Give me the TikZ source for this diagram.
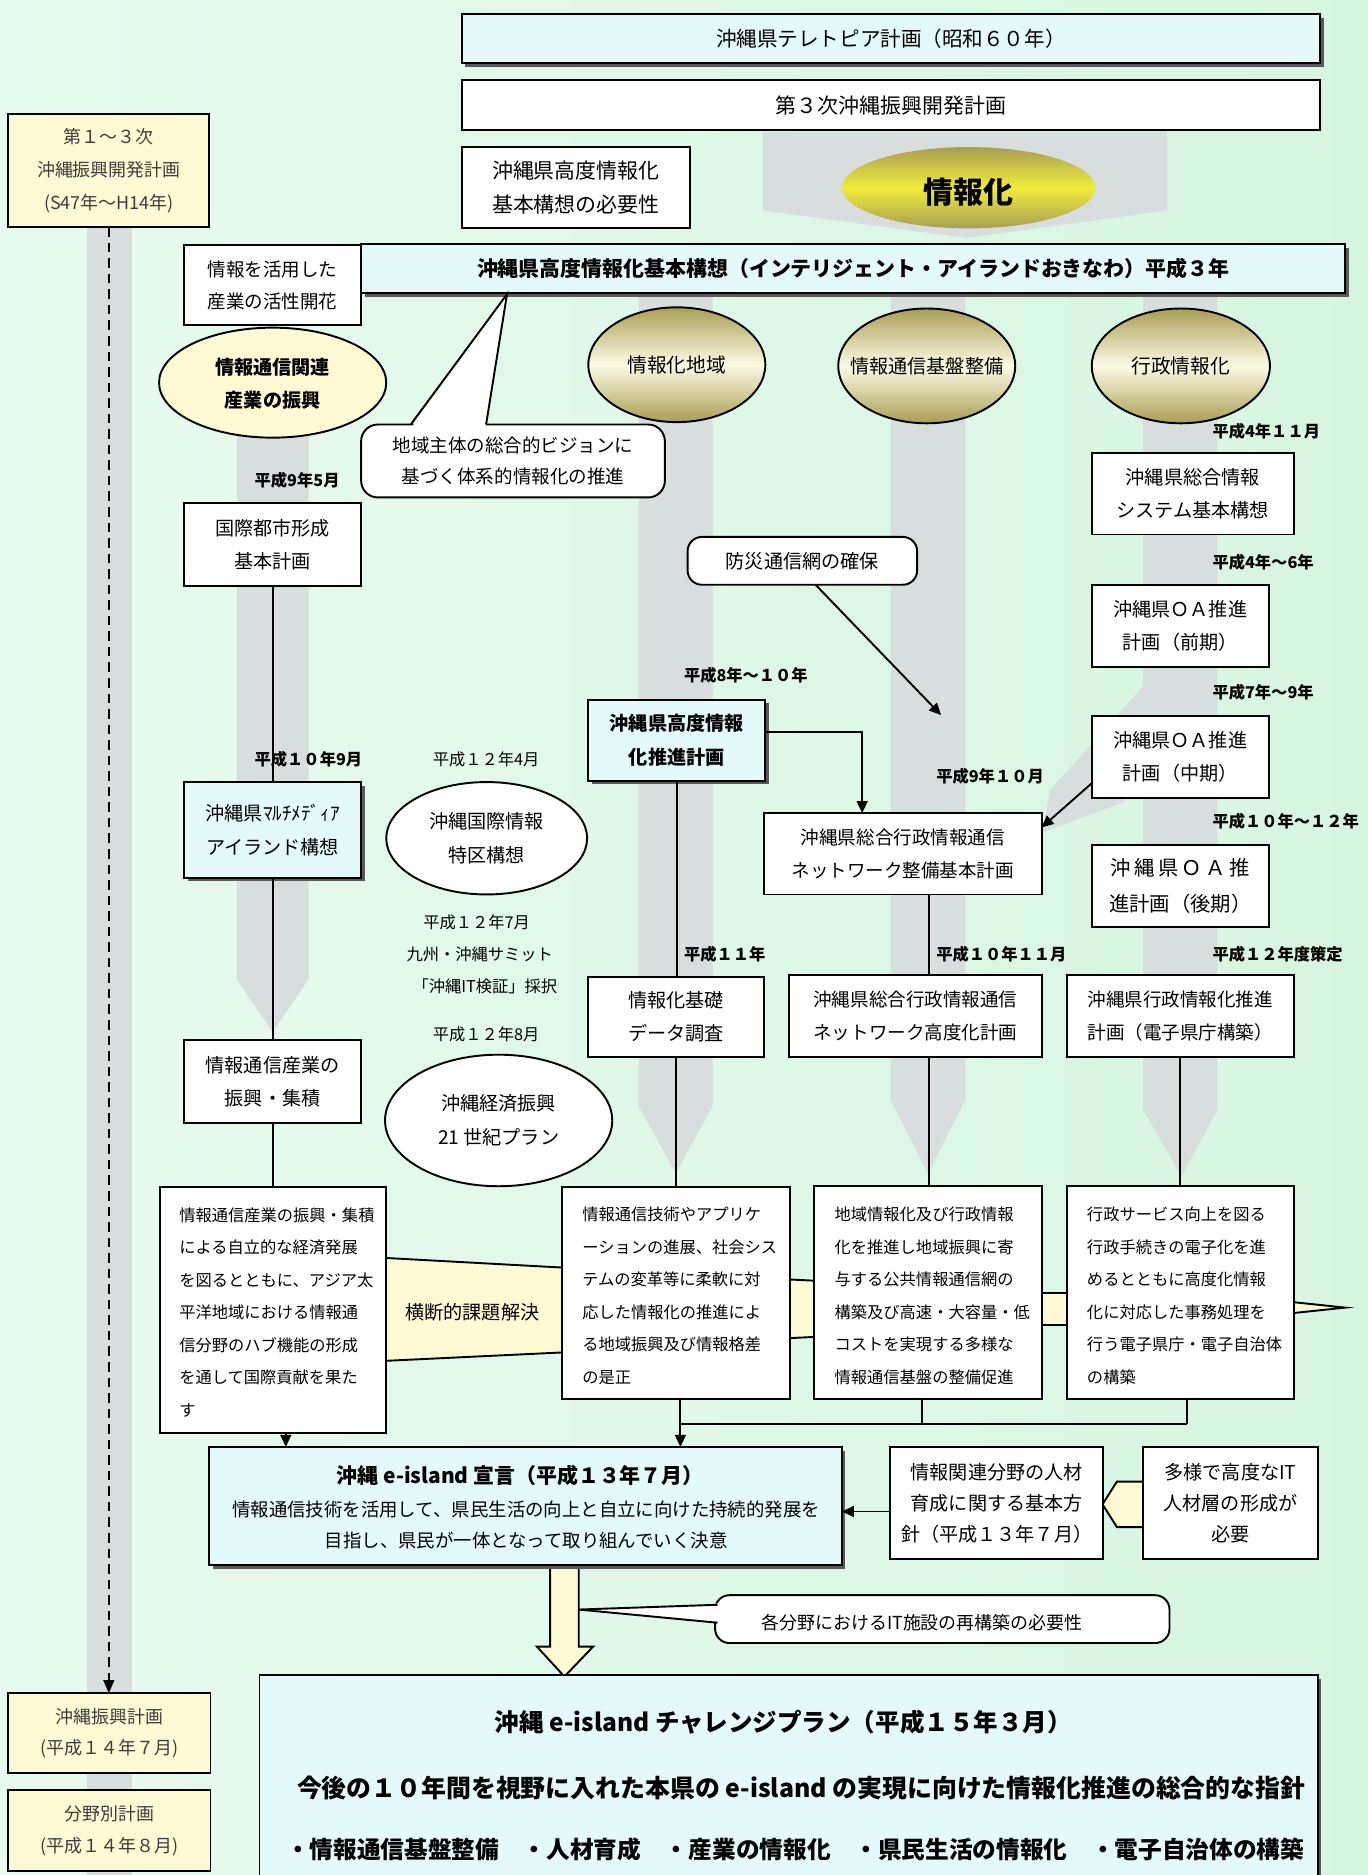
\documentclass[tikz,border=0pt]{standalone}
\usepackage{fontspec}
\setmainfont{Noto Sans CJK JP}
\usetikzlibrary{shapes.geometric,arrows.meta,shadows}
\definecolor{bgA}{RGB}{232,251,240}
\definecolor{bgB}{RGB}{214,245,224}
\definecolor{band}{RGB}{216,221,221}
\definecolor{cyanf}{RGB}{228,249,250}
\definecolor{yelf}{RGB}{255,250,212}
\definecolor{olv}{RGB}{168,158,84}
\definecolor{cream}{RGB}{252,250,228}
\definecolor{ylw}{RGB}{240,236,60}
\definecolor{txtg}{RGB}{60,60,60}
\newcommand\fsz[2]{\fontsize{#1}{#2}\selectfont}
\begin{document}
\begin{tikzpicture}[x=1pt,y=-1pt,
 every node/.style={inner sep=0pt, outer sep=0pt},
 bx/.style={draw=black, line width=1.6pt, fill=white, align=center, font=\fsz{16}{28}},
 cbx/.style={bx, fill=cyanf},
 ybx/.style={bx, fill=yelf, text=txtg},
 shd/.style={drop shadow={shadow xshift=3pt, shadow yshift=-3pt, fill=black!65, opacity=1}},
 ell/.style={ellipse, draw=black, line width=1.6pt},
 olive/.style={ell, top color=olv, bottom color=olv, middle color=cream},
 dateb/.style={anchor=west, font=\bfseries\fsz{13.6}{16}},
 daten/.style={anchor=west, font=\fsz{13.6}{16}},
 ln/.style={line width=1.6pt},
 arr/.style={line width=1.6pt, -{Triangle[length=10pt,width=9pt]}},
 txt/.style={align=left, anchor=west, font=\fsz{13.6}{27.2}}]
\useasboundingbox (0,0) rectangle (1144,1568);
\shade[left color=bgA, right color=bgB] (0,0) rectangle (1144,1568);
% gray bands
\fill[band] (73,190) rectangle (110,1568);
\fill[band] (638,110) -- (976,110) -- (976,176) -- (808,199) -- (638,176) -- cycle;
\fill[band] (198,340) -- (258,340) -- (258,819) -- (228,863) -- (198,819) -- cycle;
\fill[band] (534,245) -- (596,245) -- (596,925) -- (565,981) -- (534,925) -- cycle;
\fill[band] (745,245) -- (807,245) -- (807,920) -- (776,981) -- (745,920) -- cycle;
\fill[band] (956,245) -- (1018,245) -- (1018,928) -- (988,984) -- (956,928) -- cycle;
\fill[band] (956,574) -- (1017,584) -- (939,671) -- (872,696) -- (878,661) -- cycle;
% yellow bands
\fill[yelf] (323,1052) -- (470,1060) -- (470,1131) -- (323,1138) -- cycle;
\draw[ln] (323,1052) -- (470,1060); \draw[ln] (323,1138) -- (470,1131);
\fill[yelf] (661,1070) rectangle (681,1119);
\draw[ln] (661,1070) -- (681,1071); \draw[ln] (661,1119) -- (681,1118);
\fill[yelf] (871,1081) rectangle (892,1108);
\draw[ln] (871,1081) -- (892,1081); \draw[ln] (871,1108) -- (892,1108);
\draw[ln, fill=yelf] (1082,1089) -- (1125,1093.5) -- (1082,1098);
\draw[ln, fill=yelf] (956,1239) -- (934,1239) -- (922,1258) -- (934,1277) -- (956,1277);
\draw[ln, fill=yelf] (460,1309) -- (460,1377) -- (449,1377) -- (472,1402) -- (496,1377) -- (484,1377) -- (484,1309);
% top
\node[cbx, shd, minimum width=718pt, minimum height=41pt, font=\fsz{17.2}{20}] (telo) at (745,32.5) {沖縄県テレトピア計画（昭和６０年）};
\node[bx, minimum width=718pt, minimum height=42pt, font=\fsz{17.5}{20}] (dai3) at (745,88) {第３次沖縄振興開発計画};
\node[ellipse, minimum width=212pt, minimum height=68pt, top color=olv, bottom color=olv, middle color=ylw] (joho) at (810,157) {};
\node[font=\bfseries\fsz{25}{28}] (johot) at (810,161) {情報化};
\node[bx, minimum width=191pt, minimum height=68pt, font=\fsz{17.5}{28}] (hitsuyo) at (481.5,157) {沖縄県高度情報化\\基本構想の必要性};
\node[ybx, minimum width=168pt, minimum height=95pt, font=\fsz{15}{27.5}] (dai13) at (91,142.5) {第１～３次\\沖縄振興開発計画\\(S47年～H14年)};
\node[bx, minimum width=148pt, minimum height=67pt, font=\fsz{15.5}{27}] (katsuyo) at (228,238.5) {情報を活用した\\産業の活性開花};
\node[cbx, shd, minimum width=823pt, minimum height=41pt, font=\bfseries\fsz{17.5}{20}] (kousou) at (713.5,224.5) {沖縄県高度情報化基本構想（インテリジェント・アイランドおきなわ）平成３年};
% theme ellipses
\node[ell, fill=yelf, minimum width=190pt, minimum height=92pt] (e1) at (228,320) {};
\node[font=\bfseries\fsz{16}{27}, align=center] (e1t) at (228,321) {情報通信関連\\産業の振興};
\node[olive, minimum width=148pt, minimum height=96pt] (e2) at (566,305) {};
\node[font=\fsz{16.5}{20}] (e2t) at (e2) {情報化地域};
\node[olive, minimum width=148pt, minimum height=96pt] (e3) at (775,306) {};
\node[font=\fsz{16}{20}] (e3t) at (e3) {情報通信基盤整備};
\node[olive, minimum width=149pt, minimum height=96pt] (e4) at (987.5,306) {};
\node[font=\fsz{16.5}{20}] (e4t) at (e4) {行政情報化};
% callout 1
\node[bx, rounded corners=14pt, minimum width=254pt, minimum height=61pt, font=\fsz{15.5}{26}] (call1) at (429,385.5) {地域主体の総合的ビジョンに\\基づく体系的情報化の推進};
\fill[white] (344,357.5) -- (424,247) -- (406,357.5) -- cycle;
\draw[ln] (343.5,355) -- (424,246) -- (406.5,355);
% dates
\node[dateb] (d1) at (1014,361) {平成4年１１月};
\node[dateb] (d2) at (213,402) {平成9年5月};
\node[dateb] (d3) at (1014,470) {平成4年～6年};
\node[dateb] (d4) at (572,565) {平成8年～１０年};
\node[dateb] (d5) at (1014,579) {平成7年～9年};
\node[dateb] (d6) at (213,635) {平成１０年9月};
\node[daten] (d7) at (362,635) {平成１２年4月};
\node[dateb] (d8) at (783,649) {平成9年１０月};
\node[dateb] (d9) at (1014,687) {平成１０年～１２年};
\node[daten] (d10) at (354,771) {平成１２年7月};
\node[daten] (d11) at (340,798) {九州・沖縄サミット};
\node[daten] (d12) at (345,825) {「沖縄IT検証」採択};
\node[dateb] (d13) at (572,798) {平成１１年};
\node[dateb] (d14) at (783,798) {平成１０年１１月};
\node[dateb] (d15) at (1014,798) {平成１２年度策定};
\node[daten] (d16) at (362,865) {平成１２年8月};
% boxes
\node[bx, minimum width=148pt, minimum height=69pt] (kokusai) at (228,455.5) {国際都市形成\\基本計画};
\node[bx, minimum width=169pt, minimum height=68pt] (sogo) at (997.5,413) {沖縄県総合情報\\システム基本構想};
\node[bx, rounded corners=12pt, minimum width=192pt, minimum height=40pt] (bousai) at (671,469) {防災通信網の確保};
\node[bx, minimum width=148pt, minimum height=69pt] (oa1) at (987,523.5) {沖縄県ＯＡ推進\\計画（前期）};
\node[cbx, shd, minimum width=148pt, minimum height=68pt, font=\bfseries\fsz{16}{28}] (suishin) at (566,619) {沖縄県高度情報\\化推進計画};
\node[bx, minimum width=148pt, minimum height=68pt] (oa2) at (987,633) {沖縄県ＯＡ推進\\計画（中期）};
\node[cbx, shd, minimum width=148pt, minimum height=80pt] (multi) at (228,694) {沖縄県ﾏﾙﾁﾒﾃﾞｨｱ\\アイランド構想};
\node[ell, fill=white, minimum width=168pt, minimum height=94pt] (tokku) at (407,701) {};
\node[font=\fsz{16}{28}, align=center] (tokkut) at (tokku) {沖縄国際情報\\特区構想};
\node[bx, minimum width=232pt, minimum height=68pt, font=\fsz{15.5}{28}] (net) at (755,714) {沖縄県総合行政情報通信\\ネットワーク整備基本計画};
\node[bx, minimum width=148pt, minimum height=68pt, font=\fsz{17}{30}] (oa3) at (987,741) {沖\,縄\,県\,Ｏ\,Ａ\,推\\進計画（後期）};
\node[bx, minimum width=147pt, minimum height=67pt] (kiso) at (565.5,850.5) {情報化基礎\\データ調査};
\node[bx, minimum width=211pt, minimum height=69pt, font=\fsz{15.5}{28}] (koudo) at (765.5,849.5) {沖縄県総合行政情報通信\\ネットワーク高度化計画};
\node[bx, minimum width=190pt, minimum height=69pt, font=\fsz{15.5}{28}] (denshi) at (987,849.5) {沖縄県行政情報化推進\\計画（電子県庁構築）};
\node[bx, minimum width=148pt, minimum height=69pt] (sangyo) at (228,904.5) {情報通信産業の\\振興・集積};
\node[ell, fill=white, minimum width=190pt, minimum height=110pt] (plan21) at (417,937) {};
\node[font=\fsz{16}{28}, align=center] (plan21t) at (plan21) {沖縄経済振興\\21 世紀プラン};
% text boxes
\node[bx, minimum width=189pt, minimum height=205pt] (A) at (228.5,1095.5) {};
\node[txt] (At) at (150,1097.5) {情報通信産業の振興・集積\\による自立的な経済発展\\を図るとともに、アジア太\\平洋地域における情報通\\信分野のハブ機能の形成\\を通して国際貢献を果た\\す};
\node[bx, minimum width=191pt, minimum height=177pt] (B) at (565.5,1081.5) {};
\node[txt] (Bt) at (487,1083.5) {情報通信技術やアプリケ\\ーションの進展、社会シス\\テムの変革等に柔軟に対\\応した情報化の推進によ\\る地域振興及び情報格差\\の是正};
\node[bx, minimum width=190pt, minimum height=178pt] (C) at (776,1081) {};
\node[txt] (Ct) at (698,1083.5) {地域情報化及び行政情報\\化を推進し地域振興に寄\\与する公共情報通信網の\\構築及び高速・大容量・低\\コストを実現する多様な\\情報通信基盤の整備促進};
\node[bx, minimum width=190pt, minimum height=178pt] (D) at (987,1081) {};
\node[txt] (Dt) at (909,1083.5) {行政サービス向上を図る\\行政手続きの電子化を進\\めるとともに高度化情報\\化に対応した事務処理を\\行う電子県庁・電子自治体\\の構築};
\node[font=\fsz{16}{20}] (oudan) at (395,1097) {横断的課題解決};
% bottom
\node[cbx, shd, minimum width=529pt, minimum height=99pt] (eis) at (439.5,1259.5) {};
\node[font=\bfseries\fsz{17.5}{20}] (eist) at (435,1234) {沖縄 e-island 宣言（平成１３年７月）};
\node[font=\fsz{15.4}{26}, align=center] (eisb) at (440,1275) {情報通信技術を活用して、県民生活の向上と自立に向けた持続的発展を\\目指し、県民が一体となって取り組んでいく決意};
\node[bx, minimum width=178pt, minimum height=94pt, font=\fsz{16}{26}] (jinzai) at (833.5,1257) {情報関連分野の人材\\育成に関する基本方\\針（平成１３年７月）};
\node[bx, minimum width=146pt, minimum height=94pt, font=\fsz{16}{26}] (tayou) at (1029,1257) {多様で高度なIT\\人材層の形成が\\必要};
\node[bx, rounded corners=12pt, minimum width=380pt, minimum height=40pt] (call2) at (788,1354) {};
\node[font=\fsz{15}{18}] (call2t) at (771,1357) {各分野におけるIT施設の再構築の必要性};
\fill[white] (601,1341) -- (484,1346) -- (601,1357) -- cycle;
\draw[ln] (600,1342) -- (484,1346) -- (600,1357);
\node[cbx, shd, minimum width=885pt, minimum height=179pt] (chal) at (659.5,1490.5) {};
\node[font=\bfseries\fsz{20.5}{24}] (chal1) at (655,1440) {沖縄 e-island チャレンジプラン（平成１５年３月）};
\node[font=\bfseries\fsz{20.8}{24}] (chal2) at (670,1495) {今後の１０年間を視野に入れた本県の e-island の実現に向けた情報化推進の総合的な指針};
\node[font=\bfseries\fsz{19.8}{24}] (chal3) at (665,1547) {・情報通信基盤整備　・人材育成　・産業の情報化　・県民生活の情報化　・電子自治体の構築};
\node[ybx, minimum width=169pt, minimum height=67pt, font=\fsz{15}{26}] (shinko) at (91.5,1449.5) {沖縄振興計画\\(平成１４年７月)};
\node[ybx, minimum width=169pt, minimum height=68pt, font=\fsz{15}{26}] (bunya) at (91.5,1531) {分野別計画\\(平成１４年８月)};
% connectors
\draw[ln, dash pattern=on 8pt off 5pt, -{Triangle[length=11pt,width=9pt]}] (dai13.south) -- (dai13.south |- shinko.north);
\draw[ln] (kokusai) -- (multi);
\draw[ln] (multi) -- (sangyo);
\draw[ln] (sangyo.south) -- (sangyo.south |- A.north);
\draw[ln] (suishin.south) -- (suishin.south |- kiso.north);
\draw[ln] (kiso.south) -- (kiso.south |- B.north);
\draw[arr] ([yshift=7pt]suishin.east) -| ([xshift=-34pt]net.north);
\coordinate (bousaiend) at (787,598);
\draw[arr] ([xshift=11pt]bousai.south) -- (bousaiend);
\draw[arr] ([yshift=-22pt]oa2.west) -- ([yshift=-12pt]net.north east);
\draw[ln] ([xshift=22pt]net.south) -- ([xshift=22pt]net.south |- koudo.north);
\draw[ln] ([xshift=11.5pt]koudo.south) -- ([xshift=11.5pt]koudo.south |- C.north);
\draw[ln] (denshi) -- (D);
\draw[arr] ([xshift=10.5pt]A.south) -- ([xshift=10.5pt]A.south |- eis.north);
\draw[arr] ([xshift=3.5pt]B.south) -- ([xshift=3.5pt]B.south |- eis.north);
\coordinate (jc) at (771,1191);
\coordinate (jd) at (993,1191);
\draw[ln] ([xshift=-5pt]C.south) -- (jc);
\draw[ln] ([xshift=6pt]D.south) -- (jd);
\draw[ln] ([xshift=3.5pt]B.south |- jd) -- (jd);
\draw[arr] ([yshift=-7pt]jinzai.west) -- ([yshift=-7pt]jinzai.west -| eis.east);
\end{tikzpicture}
\end{document}
